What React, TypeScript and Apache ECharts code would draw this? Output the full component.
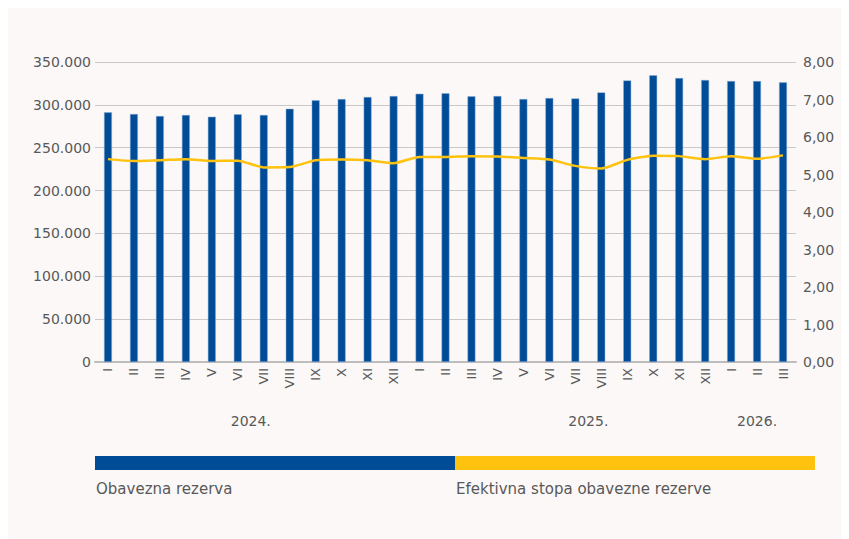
import React, { useEffect, useRef } from "react";
import * as echarts from "echarts";

const months = ["I","II","III","IV","V","VI","VII","VIII","IX","X","XI","XII","I","II","III","IV","V","VI","VII","VIII","IX","X","XI","XII","I","II","III"];
const reserve = [291300,289300,287000,288200,286200,289000,288200,295500,305300,306800,309200,310300,313000,313500,310000,310300,306800,308000,307600,314600,328600,334500,331300,329000,327800,327800,326300];
const rate = [5.41,5.36,5.38,5.41,5.36,5.37,5.19,5.20,5.38,5.40,5.38,5.30,5.47,5.47,5.49,5.48,5.44,5.40,5.23,5.16,5.39,5.50,5.49,5.41,5.49,5.42,5.51];
const yearLabels = ["2024.", "2025.", "2026."];
const yearPositions = [5.5, 18.5, 25];
const seriesNames = ["Obavezna rezerva", "Efektivna stopa obavezne rezerve"];

const BLUE = "#004C97";
const YELLOW = "#FFC20E";
const TXT = "#595959";
const FONT = "DejaVu Sans";

export default function App() {
  const ref = useRef<HTMLDivElement>(null);
  useEffect(() => {
    if (!ref.current) return;
    const chart = echarts.init(ref.current, null, { renderer: "svg" });
    chart.setOption({
      animation: false,
      backgroundColor: "#FBF8F7",
      grid: { left: 87, right: 45, top: 54, bottom: 177 },
      xAxis: {
        type: "category",
        data: months,
        axisLine: { lineStyle: { color: "#BDBDBD", width: 2 } },
        axisTick: { show: false },
        axisLabel: { rotate: 90, color: TXT, fontFamily: FONT, fontSize: 13, margin: 6, interval: 0 },
      },
      yAxis: [
        {
          type: "value",
          min: 0,
          max: 350000,
          interval: 50000,
          axisLine: { show: false },
          axisTick: { show: false },
          splitLine: { lineStyle: { color: "#C8C8C8", width: 1 } },
          axisLabel: {
            color: TXT, fontFamily: FONT, fontSize: 14, margin: 4,
            formatter: (v: number) => (v === 0 ? "0" : (v / 1000).toFixed(0) + ".000"),
          },
        },
        {
          type: "value",
          min: 0,
          max: 8,
          interval: 1,
          position: "right",
          axisLine: { show: false },
          axisTick: { show: false },
          splitLine: { show: false },
          axisLabel: {
            color: TXT, fontFamily: FONT, fontSize: 14, margin: 7,
            formatter: (v: number) => v.toFixed(2).replace(".", ","),
          },
        },
      ],
      series: [
        {
          name: seriesNames[0],
          type: "bar",
          data: reserve,
          barWidth: 8,
          itemStyle: { color: BLUE, borderColor: "rgba(140,175,215,0.8)", borderWidth: 0.6 },
        },
        {
          name: seriesNames[1],
          type: "line",
          yAxisIndex: 1,
          data: rate,
          showSymbol: false,
          smooth: 0.2,
          lineStyle: { color: YELLOW, width: 2.5 },
        },
      ],
    });
    const legendLeft = 87;
    const half = 360;
    const yearTexts = yearLabels.map((t, i) => {
      const a = Math.floor(yearPositions[i]);
      const b = Math.ceil(yearPositions[i]);
      const pa = chart.convertToPixel({ xAxisIndex: 0 }, a) as number;
      const pb = chart.convertToPixel({ xAxisIndex: 0 }, b) as number;
      const x = pa + (pb - pa) * (yearPositions[i] - a);
      return {
        type: "text",
        x,
        y: 413,
        style: { text: t, fill: TXT, font: `14px "${FONT}"`, align: "center", verticalAlign: "middle" },
      };
    });
    chart.setOption({
      graphic: [
        ...yearTexts,
        { type: "rect", shape: { x: legendLeft, y: 448, width: half, height: 14 }, style: { fill: BLUE } },
        { type: "rect", shape: { x: legendLeft + half, y: 448, width: half, height: 14 }, style: { fill: YELLOW } },
        {
          type: "text", x: legendLeft + 1, y: 481,
          style: { text: seriesNames[0], fill: TXT, font: `15px "${FONT}"`, verticalAlign: "middle" },
        },
        {
          type: "text", x: legendLeft + half + 1, y: 481,
          style: { text: seriesNames[1], fill: TXT, font: `15px "${FONT}"`, verticalAlign: "middle" },
        },
      ],
    });
    return () => chart.dispose();
  }, []);
  return <div ref={ref} style={{ width: 833, height: 531 }} />;
}
